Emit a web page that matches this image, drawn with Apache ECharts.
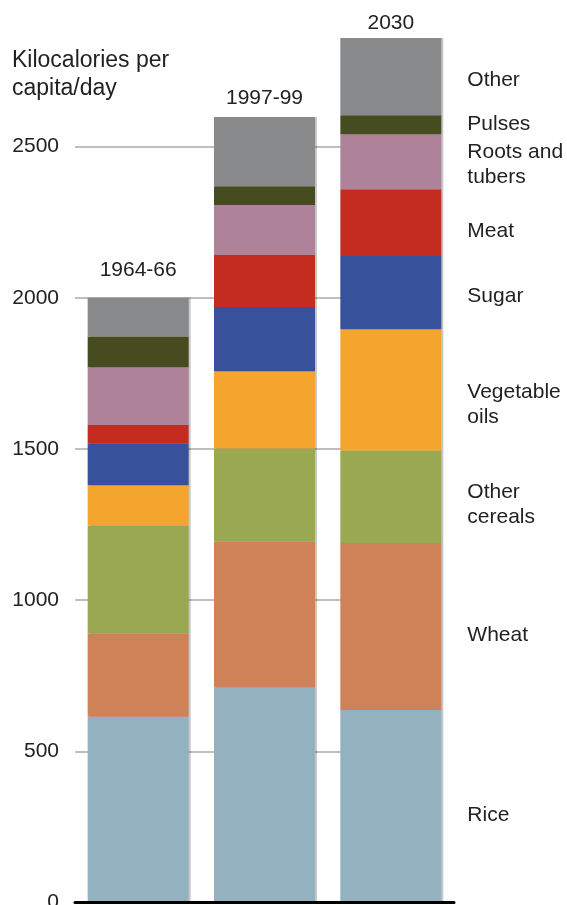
<!DOCTYPE html>
<html>
<head>
<meta charset="utf-8">
<script src="https://cdn.jsdelivr.net/npm/echarts@6/dist/echarts.min.js"></script>
<style>
html,body{margin:0;padding:0;background:#fff;}
#chart{width:567px;height:905px;}
</style>
</head>
<body>
<div id="chart"></div>
<script>
// ---- data ----
const categories = ['1964-66', '1997-99', '2030'];
const rice         = [614, 711, 637];
const wheat        = [276, 483, 552];
const otherCereals = [357, 308, 306];
const vegOils      = [133, 255, 401];
const sugar        = [139, 213, 242];
const meat         = [60, 172, 221];
const roots        = [191, 165, 182];
const pulses       = [102, 62, 63];
const other        = [128, 229, 255];
const seriesNames  = ['Rice', 'Wheat', 'Other cereals', 'Vegetable oils', 'Sugar', 'Meat', 'Roots and tubers', 'Pulses', 'Other'];
const seriesLabels = ['Rice', 'Wheat', 'Other\ncereals', 'Vegetable\noils', 'Sugar', 'Meat', 'Roots and\ntubers', 'Pulses', 'Other'];
const seriesData   = [rice, wheat, otherCereals, vegOils, sugar, meat, roots, pulses, other];
const yTitle = 'Kilocalories per\ncapita/day';

// ---- styles ----
const colors = ['#93b1bf', '#cf8258', '#9aa852', '#f4a52d', '#37519b', '#c42c20', '#ae8399', '#464c20', '#88898b'];
const labelOffsetY = [9, 8.5, 8, 15, 4, 8.5, 2.5, -0.5, 3.5];
const FONT = '"Liberation Sans", Arial, Helvetica, sans-serif';
const TXT = '#222';
const topLabelDistance = [17, 8.5, 4.5];
const labelledIndex = categories.length - 1;

const chart = echarts.init(document.getElementById('chart'));

const series = seriesData.map((arr, i) => ({
  name: seriesNames[i],
  type: 'bar',
  stack: 'total',
  xAxisIndex: 0,
  yAxisIndex: 0,
  barWidth: 101,
  data: arr.map((v, j) => j === labelledIndex ? { value: v, label: { show: true } } : v),
  label: {
    show: false,
    position: 'right',
    distance: 26,
    offset: [0, labelOffsetY[i]],
    formatter: seriesLabels[i],
    fontSize: 21,
    lineHeight: 25,
    color: TXT,
    fontFamily: FONT,
    align: 'left'
  },
  itemStyle: {
    color: colors[i],
    shadowColor: 'rgba(0,0,0,0.22)',
    shadowBlur: 0,
    shadowOffsetX: 2
  },
  emphasis: { disabled: true },
  animation: false
}));

// zero-height helper on top of each stack carrying the period label
series.push({
  name: 'period',
  type: 'bar',
  stack: 'total',
  xAxisIndex: 0,
  yAxisIndex: 0,
  barWidth: 101,
  data: categories.map((c, j) => ({ value: 0, label: { distance: topLabelDistance[j] } })),
  label: {
    show: true,
    position: 'top',
    formatter: '{b}',
    fontSize: 21,
    color: TXT,
    fontFamily: FONT
  },
  itemStyle: { color: 'rgba(0,0,0,0)' },
  emphasis: { disabled: true },
  animation: false
});

const option = {
  animation: false,
  backgroundColor: '#fff',
  title: {
    text: yTitle,
    left: 12,
    top: 47,
    padding: 0,
    textStyle: { fontSize: 23, fontWeight: 'normal', color: TXT, lineHeight: 28, fontFamily: FONT }
  },
  grid: [
    { left: 75, right: 113, top: 25.7, bottom: 2.5, outerBoundsMode: 'none' },
    { left: 75, right: 130, top: 25.7, bottom: 2.5, outerBoundsMode: 'none' }
  ],
  xAxis: [
    {
      type: 'category', data: categories, gridIndex: 0, z: 5,
      axisLine: { lineStyle: { color: '#000', width: 3 } },
      axisTick: { show: false }, axisLabel: { show: false }, splitLine: { show: false }
    },
    { type: 'category', data: categories, gridIndex: 1, show: false }
  ],
  yAxis: [
    { type: 'value', gridIndex: 0, min: 0, max: 2900, interval: 500, show: false, splitLine: { show: false } },
    {
      type: 'value', gridIndex: 1, min: 0, max: 2900, interval: 500,
      axisLine: { show: false }, axisTick: { show: false },
      axisLabel: { showMaxLabel: false, fontSize: 21, color: TXT, margin: 16, fontFamily: FONT,
                   formatter: v => String(v) },
      splitLine: { show: true, showMaxLine: false, showMinLine: false, lineStyle: { color: '#aaa', width: 1.5 } }
    }
  ],
  series: series
};
chart.setOption(option);
</script>
</body>
</html>
